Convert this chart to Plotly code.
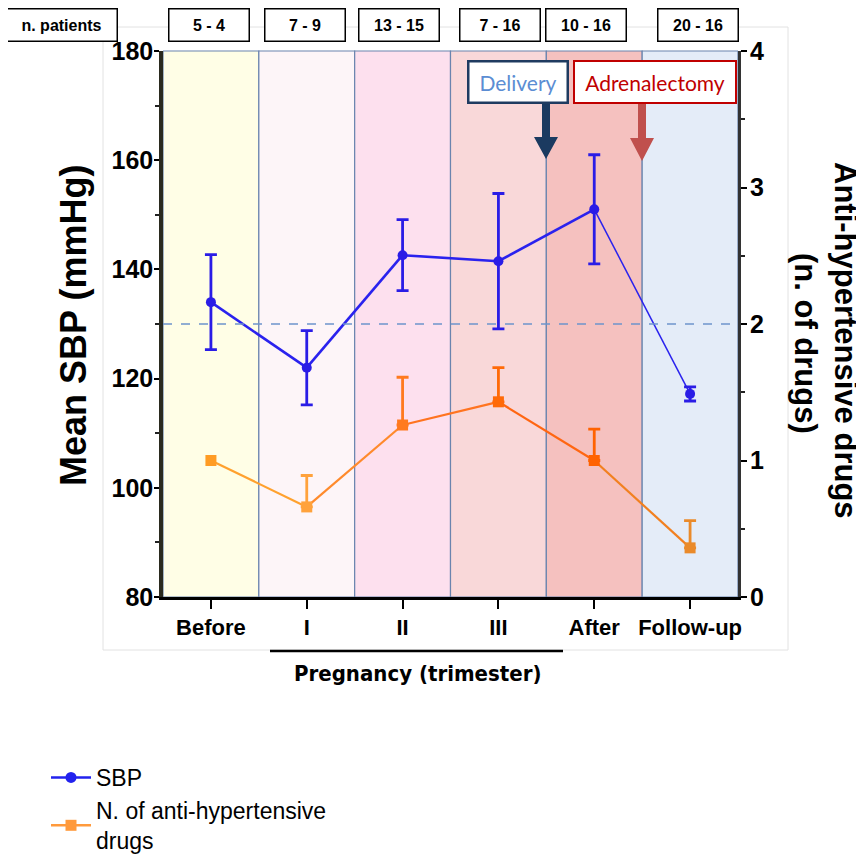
import plotly.graph_objects as go

# ---------------- data ----------------
categories = ["Before", "I", "II", "III", "After", "Follow-up"]
n_patients = ["5 - 4", "7 - 9", "13 - 15", "7 - 16", "10 - 16", "20 - 16"]
sbp_mean = [134.0, 122.0, 142.6, 141.5, 151.0, 117.2]
sbp_err = [8.7, 6.8, 6.5, 12.4, 10.0, 1.3]
drugs_mean = [1.0, 0.66, 1.26, 1.43, 1.0, 0.36]
drugs_err_up = [0.0, 0.23, 0.35, 0.25, 0.23, 0.20]

band_colors = ["#FFFEE6", "#FDF5F8", "#FDE0EE", "#F9D8D9", "#F5C1BF", "#E4ECF8"]
drug_point_colors = ["#FF9C24", "#FFA23C", "#FF7A1E", "#FF6A08", "#FF6200", "#EA8A2A"]
drug_seg_colors = ["#FFA12E", "#FF8A2C", "#FF7420", "#FF6612", "#F2801F"]
sbp_seg_widths = [2.6, 2.6, 2.6, 2.6, 1.5]

# ---------------- geometry helpers (page pixel -> paper) ----------------
OFF = 8                     # default page margin of the html body
W, H = 864 - OFF, 855 - OFF
L, R, T, B = 163, 738, 51, 597   # plot area in page pixels
def xp(px):
    return (px - L) / (R - L)
def yp(py):
    return (B - py) / (B - T)
def px2x(px):
    return -0.5 + (px - L) / (R - L) * 6
def py2y(py):
    return 180 - (py - T) / (B - T) * 100

fig = go.Figure()

# SBP segments
for i in range(len(categories) - 1):
    fig.add_trace(go.Scatter(
        x=[i, i + 1], y=[sbp_mean[i], sbp_mean[i + 1]], mode="lines",
        line=dict(color="#2A22EE", width=sbp_seg_widths[i]),
        showlegend=False, hoverinfo="skip"))
# SBP points with error bars
fig.add_trace(go.Scatter(
    x=list(range(len(categories))), y=sbp_mean, mode="markers",
    marker=dict(color="#2A1CE6", size=10, symbol="circle"),
    error_y=dict(type="data", array=sbp_err, visible=True,
                 color="#2A1CE6", thickness=2.8, width=6),
    showlegend=False))

# drugs segments
for i in range(len(categories) - 1):
    fig.add_trace(go.Scatter(
        x=[i, i + 1], y=[drugs_mean[i], drugs_mean[i + 1]], mode="lines",
        line=dict(color=drug_seg_colors[i], width=2.2),
        yaxis="y2", showlegend=False, hoverinfo="skip"))
# drug points with upper error bars
for i in range(len(categories)):
    fig.add_trace(go.Scatter(
        x=[i], y=[drugs_mean[i]], mode="markers", yaxis="y2",
        marker=dict(color=drug_point_colors[i], size=11, symbol="square"),
        error_y=dict(type="data", symmetric=False, array=[drugs_err_up[i]],
                     arrayminus=[0], visible=drugs_err_up[i] > 0,
                     color=drug_point_colors[i], thickness=2.8, width=6),
        showlegend=False))

# legend entries
fig.add_trace(go.Scatter(
    x=[None], y=[None], mode="lines+markers", name="SBP",
    line=dict(color="#2222EE", width=2.5),
    marker=dict(color="#2222EE", size=11, symbol="circle")))
fig.add_trace(go.Scatter(
    x=[None], y=[None], mode="lines+markers", name="N. of anti-hypertensive<br>drugs",
    line=dict(color="#FF9A3C", width=2.5),
    marker=dict(color="#FF9A3C", size=11, symbol="square"), yaxis="y2"))

shapes = []
# background frame (faint)
shapes.append(dict(type="rect", xref="paper", yref="paper",
                   x0=xp(103), x1=xp(788), y0=yp(650), y1=yp(27),
                   line=dict(color="#E2E2E2", width=1), fillcolor="rgba(0,0,0,0)",
                   layer="below"))
# bands
for i, c in enumerate(band_colors):
    shapes.append(dict(type="rect", xref="x", yref="paper",
                       x0=i - 0.5, x1=i + 0.5, y0=0, y1=1,
                       fillcolor=c, line=dict(color="#6A84AE", width=1.2),
                       layer="below"))
# dashed reference line
shapes.append(dict(type="line", xref="paper", yref="y", x0=0, x1=1, y0=130, y1=130,
                   line=dict(color="#6D94CC", width=1.5, dash="dash")))
# pregnancy bar
shapes.append(dict(type="line", xref="paper", yref="paper",
                   x0=xp(270), x1=xp(563), y0=yp(651), y1=yp(651),
                   line=dict(color="black", width=2.5)))

def arrow_path(cx_px, top_px, neck_px, tip_px, shaft_hw=4, head_hw=12):
    pts = [(cx_px - shaft_hw, top_px), (cx_px + shaft_hw, top_px),
           (cx_px + shaft_hw, neck_px), (cx_px + head_hw, neck_px),
           (cx_px, tip_px), (cx_px - head_hw, neck_px),
           (cx_px - shaft_hw, neck_px)]
    d = "M " + " L ".join(f"{px2x(a):.4f},{py2y(b):.3f}" for a, b in pts) + " Z"
    return d

shapes.append(dict(type="path", xref="x", yref="y",
                   path=arrow_path(546, 104, 137, 159),
                   fillcolor="#1B3A60", line=dict(width=0)))
shapes.append(dict(type="path", xref="x", yref="y",
                   path=arrow_path(642, 104, 138, 161),
                   fillcolor="#C0504D", line=dict(width=0)))

annotations = []
def ann(px, py, text, **kw):
    d = dict(xref="paper", yref="paper", x=xp(px), y=yp(py), text=text,
             showarrow=False, xanchor="center", yanchor="middle")
    d.update(kw)
    annotations.append(d)

box_font = dict(family="Liberation Sans, Arial", size=16, color="black", weight=700)
ann(61.5, 25, "n. patients", font=box_font, bordercolor="black", borderwidth=1.5,
    borderpad=0, bgcolor="white", width=110, height=31)
box_cx = [209, 305, 398.5, 500, 586, 697.5]
for cx, t in zip(box_cx, n_patients):
    ann(cx, 25, t, font=box_font, bordercolor="black", borderwidth=1.5,
        borderpad=0, bgcolor="white", width=79, height=31)

ann(518, 82, "Delivery",
    font=dict(family="Lato, Liberation Sans", size=21, color="#5B8DD3"),
    bordercolor="#1F3B60", borderwidth=2.5, borderpad=0, bgcolor="white",
    width=97, height=39)
ann(655, 82, "Adrenalectomy",
    font=dict(family="Lato, Liberation Sans", size=21, color="#C00000"),
    bordercolor="#C00000", borderwidth=2, borderpad=0, bgcolor="white",
    width=160, height=40)

ann(418, 673, "Pregnancy (trimester)",
    font=dict(family="DejaVu Sans Condensed, Liberation Sans", size=22,
              color="black", weight=700))

ann(73, 326, "Mean SBP (mmHg)", textangle=-90,
    font=dict(family="Liberation Sans, Arial", size=36, color="black", weight=700))
ann(846, 340, "Anti-hypertensive drugs", textangle=90,
    font=dict(family="Liberation Sans, Arial", size=31, color="black", weight=700))
ann(806, 343, "(n. of drugs)", textangle=90,
    font=dict(family="Liberation Sans, Arial", size=31, color="black", weight=700))

tick_font = dict(family="Liberation Sans, Arial", size=25, color="black", weight=700)

fig.update_layout(
    width=W, height=H,
    margin=dict(l=L - OFF, r=W - (R - OFF), t=T - OFF, b=H - (B - OFF),
                autoexpand=False),
    paper_bgcolor="white", plot_bgcolor="white",
    shapes=shapes, annotations=annotations,
    xaxis=dict(range=[-0.5, 5.5], tickvals=list(range(len(categories))),
               ticktext=categories, ticks="outside", ticklen=9, tickwidth=2,
               tickcolor="black", showline=True, linecolor="black", linewidth=2.5,
               showgrid=False, zeroline=False,
               tickfont=dict(family="Liberation Sans, Arial", size=22,
                             color="black", weight=700)),
    yaxis=dict(range=[80, 180], tickvals=[80, 100, 120, 140, 160, 180],
               ticks="outside", ticklen=5, tickwidth=2, tickcolor="black",
               ticklabelstandoff=-4,
               minor=dict(ticks="outside", ticklen=4, tickwidth=2, dtick=10,
                          tickcolor="#222"),
               showline=True, linecolor="#2A2A1E", linewidth=3.5,
               showgrid=False, zeroline=False, tickfont=tick_font),
    yaxis2=dict(range=[0, 4], tickvals=[0, 1, 2, 3, 4], overlaying="y", side="right",
                ticks="outside", ticklen=6, tickwidth=2, tickcolor="black",
                ticklabelstandoff=-2,
                minor=dict(ticks="outside", ticklen=4, tickwidth=2, dtick=0.5,
                           tickcolor="#222"),
                showline=True, linecolor="#333333", linewidth=3,
                showgrid=False, zeroline=False, tickfont=tick_font),
    legend=dict(x=xp(46), y=yp(756), xanchor="left", yanchor="top",
                font=dict(family="Liberation Sans, Arial", size=23, color="black"),
                bgcolor="rgba(0,0,0,0)", tracegroupgap=0, itemwidth=40),
    showlegend=True,
)

fig.write_html("out.html")
